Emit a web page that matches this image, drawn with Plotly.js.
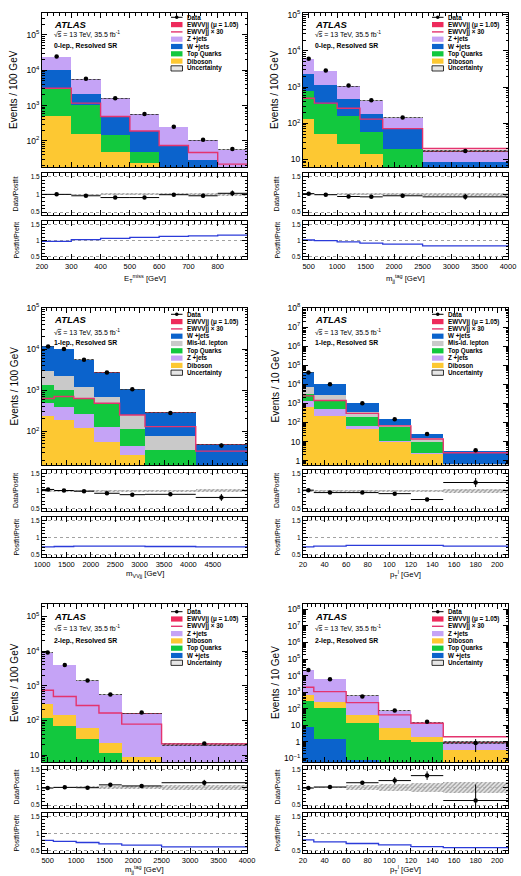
<!DOCTYPE html>
<html><head><meta charset="utf-8">
<script src="https://cdn.plot.ly/plotly-3.0.1.min.js"></script>
<style>html,body{margin:0;padding:0;background:#fff;}#chart{width:521px;height:876px;}</style>
</head><body><div id="chart"></div>
<script>
// ---------------- DATA ----------------
// Panel 1: 0-lep, E_T^miss
const p1_edges = [200,300,400,500,600,700,800,900];
const p1_diboson = [490,158,50,23,8,4,2];
const p1_top = [2410,882,98,25,7,4,3];
const p1_wjets = [7300,1060,342,142,57,21,10];
const p1_zjets = [13200,3410,1100,378,172,74,41];
const p1_signal = [108,41,17,6.6,2.6,1.6,0.8];
const p1_x30 = [3100,1170,490,190,74,47,22];
const p1_data = [24300,5700,1620,580,250,107,59];
const p1_ratio = [1.0,0.96,0.91,0.91,0.99,0.96,1.03];
const p1_ratio_err = [0.01,0.01,0.02,0.03,0.04,0.06,0.08];
const p1_unc = [0.02,0.02,0.03,0.03,0.03,0.03,0.04];
const p1_postpre = [0.97,1.02,1.06,1.09,1.12,1.14,1.16];

// Panel 2: 0-lep, m_jj^tag
const p2_edges = [400,600,1000,1400,1800,2500,4000];
const p2_diboson = [135,51,26,14,5,1];
const p2_top = [665,299,129,44,15,2];
const p2_wjets = [1500,800,315,127,51,5.5];
const p2_zjets = [3683,1637,591,230,68.5,7.8];
const p2_signal = [17,12.6,9.1,4.6,2.5,0.7];
const p2_x30 = [490,360,260,130,71,20];
const p2_data = [6100,2900,1100,430,145,17];
const p2_ratio = [1.02,0.99,0.94,0.93,0.96,0.93];
const p2_ratio_err = [0.01,0.02,0.03,0.04,0.06,0.08];
const p2_unc = [0.02,0.02,0.03,0.03,0.03,0.04];
const p2_postpre = [1.01,0.99,0.95,0.91,0.88,0.83];

// Panel 3: 1-lep, m_VVjj
const p3_edges = [1000,1250,1650,2070,2590,3110,4150,5200];
const p3_diboson = [230,190,118,56,26,5,2];
const p3_zjets = [250,210,147,74,17,5,2];
const p3_top = [870,620,365,370,69,25,4];
const p3_misid = [1610,1220,600,180,138,42,4];
const p3_wjets = [8618,7735,4248,2003,791,208,35];
const p3_signal = [22,24.5,22,16.8,8.8,4.6,1.2];
const p3_x30 = [630,700,630,480,250,130,33];
const p3_data = [11600,10000,5500,2700,1050,280,45];
const p3_ratio = [1.04,1.01,0.99,0.93,0.89,0.90,0.81];
const p3_ratio_err = [0.01,0.01,0.01,0.02,0.03,0.05,0.1];
const p3_unc = [0.02,0.02,0.02,0.03,0.03,0.03,0.04];
const p3_postpre = [0.72,0.73,0.74,0.74,0.74,0.73,0.72];

// Panel 4: 1-lep, p_T^l
const p4_edges = [20,30,60,90,120,150,210];
const p4_diboson = [680,230,48,9,2.1,0.15];
const p4_zjets = [580,280,14,2,0.5,0.05];
const p4_top = [1890,910,143,45,7.4,0.42];
const p4_misid = [4450,1380,145,18,5,0.08];
const p4_wjets = [34314,7150,660,71.7,9.5,2.4];
const p4_signal = [86,50,10.5,2.3,0.47,0.09];
const p4_x30 = [2470,1420,300,66,13.5,2.6];
const p4_data = [42000,10000,1020,148,25,3.5];
const p4_ratio = [1.02,0.95,0.95,0.92,0.75,1.24];
const p4_ratio_err = [0.01,0.01,0.02,0.03,0.05,0.13];
const p4_unc = [0.02,0.02,0.02,0.03,0.03,0.05];
const p4_postpre = [0.72,0.74,0.76,0.76,0.76,0.74];

// Panel 5: 2-lep, m_jj^tag
const p5_edges = [400,600,1000,1400,1800,2500,4000];
const p5_wjets = [2,1,0.5,0.3,0.2,0.1];
const p5_top = [115,66,28.5,11.4,4.8,2.9];
const p5_diboson = [178,79,31,11.3,3.7,2];
const p5_zjets = [8779,3787,1350,531,149,14.3];
const p5_signal = [26,17,9.5,5.7,2.7,0.74];
const p5_x30 = [740,490,270,163,78,21];
const p5_data = [9100,3950,1420,560,170,21.5];
const p5_ratio = [0.98,1.0,0.99,1.07,1.04,1.13];
const p5_ratio_err = [0.01,0.02,0.03,0.04,0.05,0.08];
const p5_unc = [0.02,0.02,0.03,0.04,0.05,0.08];
const p5_postpre = [0.79,0.76,0.73,0.69,0.65,0.60];

// Panel 6: 2-lep, p_T^l
const p6_edges = [20,30,60,90,120,150,210];
const p6_wjets = [8.1,1.4,0.08,0.04,0.03,0.02];
const p6_top = [282,103.6,13.9,1.21,0.87,0.03];
const p6_diboson = [390,160,28,5.85,1.1,0.27];
const p6_zjets = [21252,5598,550,67.4,11.5,0.51];
const p6_signal = [68,37,8,1.5,0.46,0.07];
const p6_x30 = [1950,1070,230,42,13,2.0];
const p6_data = [22000,5900,540,76,16,0.83];
const p6_ratio = [0.98,1.01,1.13,1.19,1.33,0.63];
const p6_ratio_err = [0.01,0.02,0.05,0.1,0.12,0.45];
const p6_unc = [0.02,0.02,0.08,0.1,0.12,0.15];
const p6_postpre = [0.81,0.75,0.70,0.66,0.61,0.58];

const legend_0lep = ['Data','EWVVjj (\u03bc = 1.05)','EWVVjj \u00d7 30','Z +jets','W +jets','Top Quarks','Diboson','Uncertainty'];
const legend_1lep = ['Data','EWVVjj (\u03bc = 1.05)','EWVVjj \u00d7 30','W +jets','Mis-id. lepton','Top Quarks','Z +jets','Diboson','Uncertainty'];
const legend_2lep = ['Data','EWVVjj (\u03bc = 1.05)','EWVVjj \u00d7 30','Z +jets','Diboson','Top Quarks','W +jets','Uncertainty'];

// ---------------- STYLE ----------------
const C = {z:'#c5a3f6', w:'#0b63cc', top:'#12c83e', dib:'#fdc832', mis:'#c9c9c9', sig:'#ee2a5c', x30:'#e4336e', pp:'#2b3bd9'};
const FONT = 'Liberation Sans, Arial, Helvetica, sans-serif';
const W = 521, H = 876;
const PX = x => x / W, PY = y => 1 - y / H;
const COLS = [[42,247],[303,508]];
const ROWS = [
  {main:[13,167], r1:[173,215], r2:[221,259], xt:278, atlas:24, sqrt:34, reg:46.3, leg0:17.3},
  {main:[308,465], r1:[470,511], r2:[517,557], xt:574, atlas:319.6, sqrt:332, reg:343.3, leg0:314.3},
  {main:[604,762], r1:[766,808], r2:[813,853], xt:869.5, atlas:616, sqrt:627.7, reg:640.7, leg0:611.7}
];

const panels = [
 {edges:p1_edges, stack:[['dib',p1_diboson],['top',p1_top],['w',p1_wjets],['z',p1_zjets]], sig:p1_signal, x30:p1_x30, data:p1_data, ratio:p1_ratio, rerr:p1_ratio_err, unc:p1_unc, pp:p1_postpre,
  yr:[1.26,5.62], xd:100, xm:20, xlab:[200,800], legend:legend_0lep, lkeys:['data','sig','x30','z','w','top','dib','unc'], region:'0-lep., Resolved SR', ytitle:'Events / 100 GeV', xtitle:'E<sub>T</sub><sup>miss</sup> [GeV]'},
 {edges:p2_edges, stack:[['dib',p2_diboson],['top',p2_top],['w',p2_wjets],['z',p2_zjets]], sig:p2_signal, x30:p2_x30, data:p2_data, ratio:p2_ratio, rerr:p2_ratio_err, unc:p2_unc, pp:p2_postpre,
  yr:[0.79,5.05], xd:500, xm:100, xlab:[500,4000], legend:legend_0lep, lkeys:['data','sig','x30','z','w','top','dib','unc'], region:'0-lep., Resolved SR', ytitle:'Events / 100 GeV', xtitle:'m<sub>jj</sub><sup>tag</sup> [GeV]'},
 {edges:p3_edges, stack:[['dib',p3_diboson],['z',p3_zjets],['top',p3_top],['mis',p3_misid],['w',p3_wjets]], sig:p3_signal, x30:p3_x30, data:p3_data, ratio:p3_ratio, rerr:p3_ratio_err, unc:p3_unc, pp:p3_postpre,
  yr:[1.18,5.0], xd:500, xm:100, xlab:[1000,4500], legend:legend_1lep, lkeys:['data','sig','x30','w','mis','top','z','dib','unc'], region:'1-lep., Resolved SR', ytitle:'Events / 100 GeV', xtitle:'m<sub>VVjj</sub> [GeV]'},
 {edges:p4_edges, stack:[['dib',p4_diboson],['z',p4_zjets],['top',p4_top],['mis',p4_misid],['w',p4_wjets]], sig:p4_signal, x30:p4_x30, data:p4_data, ratio:p4_ratio, rerr:p4_ratio_err, unc:p4_unc, pp:p4_postpre,
  yr:[-0.23,8.0], xd:20, xm:4, xlab:[20,200], legend:legend_1lep, lkeys:['data','sig','x30','w','mis','top','z','dib','unc'], region:'1-lep., Resolved SR', ytitle:'Events / 10 GeV', xtitle:'p<sub>T</sub><sup>l</sup> [GeV]'},
 {edges:p5_edges, stack:[['w',p5_wjets],['top',p5_top],['dib',p5_diboson],['z',p5_zjets]], sig:p5_signal, x30:p5_x30, data:p5_data, ratio:p5_ratio, rerr:p5_ratio_err, unc:p5_unc, pp:p5_postpre,
  yr:[0.8,5.36], xd:500, xm:100, xlab:[500,4000], legend:legend_2lep, lkeys:['data','sig','x30','z','dib','top','w','unc'], region:'2-lep., Resolved SR', ytitle:'Events / 100 GeV', xtitle:'m<sub>jj</sub><sup>tag</sup> [GeV]'},
 {edges:p6_edges, stack:[['w',p6_wjets],['top',p6_top],['dib',p6_diboson],['z',p6_zjets]], sig:p6_signal, x30:p6_x30, data:p6_data, ratio:p6_ratio, rerr:p6_ratio_err, unc:p6_unc, pp:p6_postpre,
  yr:[-1.23,8.33], xd:20, xm:4, xlab:[20,200], legend:legend_2lep, lkeys:['data','sig','x30','z','dib','top','w','unc'], region:'2-lep., Resolved SR', ytitle:'Events / 10 GeV', xtitle:'p<sub>T</sub><sup>l</sup> [GeV]'}
];

// ---------------- BUILD ----------------
const centers = e => e.slice(0,-1).map((a,i)=>(a+e[i+1])/2);
const widths = e => e.slice(0,-1).map((a,i)=>e[i+1]-a);
const halfw = e => widths(e).map(w=>w/2);
const step = v => v.concat([v[v.length-1]]);
function logTicks(r){const vals=[],text=[];for(let k=Math.ceil(r[0]-1e-9);k<=Math.floor(r[1]+1e-9);k++){vals.push(Math.pow(10,k));text.push(k===0?'1':k===1?'10':'10<sup>'+(k<0?'\u2212'+(-k):k)+'</sup>');}return {vals,text};}
function logMinor(r){const v=[];for(let k=Math.floor(r[0]);k<=Math.ceil(r[1]);k++)for(let m=2;m<=9;m++)v.push(m*Math.pow(10,k));return v;}
function linTicks(a,b,d){const v=[];for(let t=a;t<=b+1e-9;t+=d)v.push(t);return v;}
const sfx = n => n===1 ? '' : String(n);

const traces=[], annotations=[], shapes=[];
const layout = {width:W, height:H, margin:{l:0,r:0,t:0,b:0}, paper_bgcolor:'#fff', plot_bgcolor:'#fff', showlegend:false, barmode:'stack', font:{family:FONT, color:'#000'}};
const axBase = {showline:true, linecolor:'#000', linewidth:1, mirror:'allticks', ticks:'inside', tickcolor:'#000', ticklen:5, tickwidth:1, zeroline:false, showgrid:false};

panels.forEach((P,i)=>{
  const col = COLS[i%2], row = ROWS[Math.floor(i/2)];
  const nM=3*i+1, n1=3*i+2, n2=3*i+3;
  const xdom=[PX(col[0]),PX(col[1])];
  const xr=[P.edges[0],P.edges[P.edges.length-1]];
  const tv = linTicks(P.xlab[0],P.xlab[1],P.xd);
  [[nM,row.main,false],[n1,row.r1,false],[n2,row.r2,true]].forEach(([n,dom,lab])=>{
    layout['xaxis'+sfx(n)] = Object.assign({}, axBase, {domain:xdom, range:xr, anchor:'y'+sfx(n), tickmode:'array', tickvals:tv, ticktext:tv.map(String), showticklabels:lab, tickfont:{size:7.5,family:FONT},
      minor:{ticks:'inside', ticklen:2.5, dtick:P.xm, tick0:0, tickcolor:'#000'}});
  });
  const lt = logTicks(P.yr);
  layout['yaxis'+sfx(nM)] = Object.assign({}, axBase, {domain:[PY(row.main[1]),PY(row.main[0])], type:'log', range:P.yr, anchor:'x'+sfx(nM),
    tickmode:'array', tickvals:lt.vals, ticktext:lt.text, tickfont:{size:8.5,family:FONT},
    minor:{ticks:'inside', ticklen:2.5, tickmode:'array', tickvals:logMinor(P.yr), tickcolor:'#000'}});
  [[n1,row.r1],[n2,row.r2]].forEach(([n,dom])=>{
    layout['yaxis'+sfx(n)] = Object.assign({}, axBase, {domain:[PY(dom[1]),PY(dom[0])], range:[0.42,1.6], anchor:'x'+sfx(n),
      tickmode:'array', tickvals:[0.5,1,1.5], ticktext:['0.5','1','1.5'], tickfont:{size:6.5,family:FONT},
      showgrid:true, gridcolor:'#8a8a8a', griddash:'dot', gridwidth:0.8,
      minor:{ticks:'inside', ticklen:2.5, dtick:0.1, tick0:0, tickcolor:'#000'}});
  });
  const cx=centers(P.edges), wd=widths(P.edges), hw=halfw(P.edges);
  const xa='x'+sfx(nM), ya='y'+sfx(nM);
  P.stack.forEach(([k,v])=>{
    traces.push({type:'bar', x:cx, y:v, width:wd, xaxis:xa, yaxis:ya, marker:{color:C[k], line:{width:0}}, hoverinfo:'skip'});
  });
  traces.push({type:'bar', x:cx, y:P.sig, width:wd, xaxis:xa, yaxis:ya, marker:{color:C.sig, line:{width:0}}, hoverinfo:'skip'});
  const total = cx.map((_,j)=>P.stack.reduce((s,[k,v])=>s+v[j],0)+P.sig[j]);
  traces.push({type:'bar', x:cx, base:total.map((t,j)=>t*(1-P.unc[j])), y:total.map((t,j)=>2*t*P.unc[j]), width:wd, xaxis:xa, yaxis:ya,
    marker:{color:'rgba(0,0,0,0)', line:{width:0}, pattern:{shape:'/', fgcolor:'#333', bgcolor:'rgba(60,60,60,0.35)', size:3, solidity:0.5}}, hoverinfo:'skip'});
  traces.push({type:'scatter', mode:'lines', x:P.edges, y:step(P.x30), xaxis:xa, yaxis:ya, line:{color:C.x30, width:1.4, shape:'hv'}, hoverinfo:'skip'});
  traces.push({type:'scatter', mode:'markers', x:cx, y:P.data, xaxis:xa, yaxis:ya, marker:{color:'#000', size:4.5},
    error_y:{type:'data', array:P.data.map((d,j)=>d*P.rerr[j]/P.ratio[j]), color:'#000', thickness:1, width:0}, hoverinfo:'skip'});
  const x1='x'+sfx(n1), y1='y'+sfx(n1);
  traces.push({type:'bar', x:cx, base:P.unc.map(u=>1-u), y:P.unc.map(u=>2*u), width:wd, xaxis:x1, yaxis:y1,
    marker:{color:'rgba(0,0,0,0)', line:{width:0}, pattern:{shape:'/', fgcolor:'#9a9a9a', bgcolor:'rgba(215,215,215,0.6)', size:3, solidity:0.4}}, hoverinfo:'skip'});
  traces.push({type:'scatter', mode:'markers', x:cx, y:P.ratio, xaxis:x1, yaxis:y1, marker:{color:'#000', size:4.5},
    error_x:{type:'data', array:hw, color:'#000', thickness:1, width:0},
    error_y:{type:'data', array:P.rerr, color:'#000', thickness:1, width:0}, hoverinfo:'skip'});
  traces.push({type:'scatter', mode:'lines', x:P.edges, y:step(P.pp), xaxis:'x'+sfx(n2), yaxis:'y'+sfx(n2), line:{color:C.pp, width:1.3, shape:'hv'}, hoverinfo:'skip'});

  const L=col[0];
  annotations.push({xref:'paper', yref:'paper', x:PX(L+10), y:PY(row.atlas), xanchor:'left', yanchor:'middle', showarrow:false,
    text:'<b><i>ATLAS</i></b>', font:{size:9.5, family:FONT}});
  annotations.push({xref:'paper', yref:'paper', x:PX(L+10), y:PY(row.sqrt), xanchor:'left', yanchor:'middle', showarrow:false,
    text:'\u221a<span style="text-decoration:overline">s</span> = 13 TeV, 35.5 fb<sup>-1</sup>', font:{size:7, family:FONT}});
  annotations.push({xref:'paper', yref:'paper', x:PX(L+10), y:PY(row.reg), xanchor:'left', yanchor:'middle', showarrow:false,
    text:'<b>'+P.region+'</b>', font:{size:6.8, family:FONT}});
  const mc=(row.main[0]+row.main[1])/2;
  annotations.push({xref:'paper', yref:'paper', x:PX(L-28), y:PY(mc), xanchor:'center', yanchor:'middle', showarrow:false, textangle:-90,
    text:P.ytitle, font:{size:10, family:FONT}});
  annotations.push({xref:'paper', yref:'paper', x:PX(L-26.5), y:PY((row.r1[0]+row.r1[1])/2), xanchor:'center', yanchor:'middle', showarrow:false, textangle:-90,
    text:'Data/Postfit', font:{size:6.8, family:FONT}});
  annotations.push({xref:'paper', yref:'paper', x:PX(L-26.5), y:PY((row.r2[0]+row.r2[1])/2), xanchor:'center', yanchor:'middle', showarrow:false, textangle:-90,
    text:'Postfit/Prefit', font:{size:6.8, family:FONT}});
  annotations.push({xref:'paper', yref:'paper', x:PX((col[0]+col[1])/2), y:PY(row.xt), xanchor:'center', yanchor:'middle', showarrow:false,
    text:P.xtitle, font:{size:7.8, family:FONT}});
  const sx0=L+129, sx1=L+140.5, tx=L+142.5;
  P.legend.forEach((name,j)=>{
    const yy=row.leg0+7.3*j, k=P.lkeys[j];
    if(k==='data'){
      shapes.push({type:'line', xref:'paper', yref:'paper', x0:PX(sx0), x1:PX(sx1), y0:PY(yy), y1:PY(yy), line:{color:'#000', width:1}});
      shapes.push({type:'circle', xref:'paper', yref:'paper', x0:PX((sx0+sx1)/2-1.8), x1:PX((sx0+sx1)/2+1.8), y0:PY(yy-1.8), y1:PY(yy+1.8), fillcolor:'#000', line:{width:0}});
    } else if(k==='x30'){
      shapes.push({type:'line', xref:'paper', yref:'paper', x0:PX(sx0), x1:PX(sx1), y0:PY(yy), y1:PY(yy), line:{color:C.x30, width:1.4}});
    } else if(k==='unc'){
      shapes.push({type:'rect', xref:'paper', yref:'paper', x0:PX(sx0), x1:PX(sx1), y0:PY(yy+2.6), y1:PY(yy-2.6), fillcolor:'#e6e6e6', line:{color:'#000', width:0.8}});
    } else {
      shapes.push({type:'rect', xref:'paper', yref:'paper', x0:PX(sx0), x1:PX(sx1), y0:PY(yy+2.6), y1:PY(yy-2.6), fillcolor:C[k], line:{width:0}});
    }
    annotations.push({xref:'paper', yref:'paper', x:PX(tx), y:PY(yy), xanchor:'left', yanchor:'middle', showarrow:false,
      text:'<b>'+name+'</b>', font:{size:6.3, family:FONT}});
  });
});
layout.annotations=annotations; layout.shapes=shapes;
Plotly.newPlot('chart', traces, layout, {displayModeBar:false, staticPlot:true});
</script></body></html>
